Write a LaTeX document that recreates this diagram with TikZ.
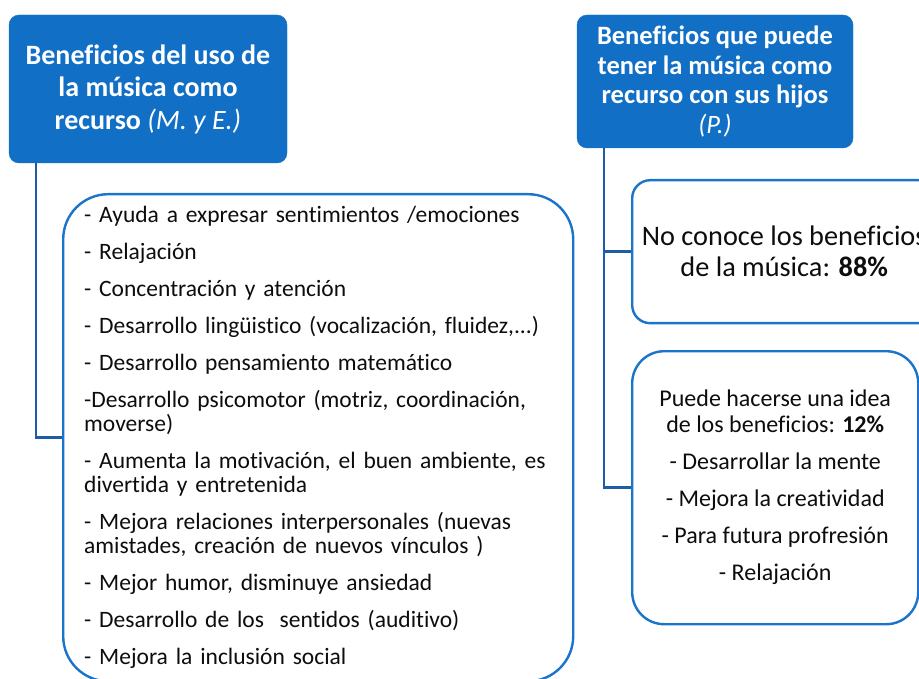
\documentclass[tikz,border=0pt]{standalone}
\usepackage{fontspec}
\setmainfont{Carlito}[Ligatures=CommonOff]
\usepackage{xcolor}
\definecolor{headblue}{RGB}{17,111,197}
\definecolor{lineblue}{RGB}{26,116,202}
\definecolor{linkblue}{RGB}{30,92,165}

\begin{document}
\begin{tikzpicture}[x=1pt, y=-1pt,
  head/.style={fill=headblue, draw=headblue, rounded corners=10pt, align=center, text=white, inner sep=0pt},
  card/.style={draw=lineblue, line width=2.4pt, fill=white, inner sep=0pt, text=black!95},
  link/.style={draw=linkblue, line width=2.6pt}]
\useasboundingbox (0,0) rectangle (919,679);
% headers
\node[head, minimum width=278pt, minimum height=148pt, font=\fontsize{28}{32.5}\selectfont\bfseries] (lhead) at (148,89)
  {Beneficios del uso de\\la música como\\recurso {\mdseries\itshape (M. y E.)}};
\node[head, minimum width=276pt, minimum height=133pt, font=\fontsize{26.5}{29.5}\selectfont\bfseries] (rhead) at (715,81.5)
  {Beneficios que puede\\tener la música como\\recurso con sus hijos\\{\mdseries\itshape (P.)}};
% left list
\node[card, rounded corners=45pt, anchor=north west, minimum height=487pt, text width=468pt, inner xsep=21pt, align=left,
  font=\fontsize{23.5}{24}\selectfont] (list) at (62,193)
  {- Ayuda a expresar sentimientos /emociones\\[13pt]
   - Relajación\\[13pt]
   - Concentración y atención\\[13pt]
   - Desarrollo lingüistico (vocalización, fluidez,...)\\[13pt]
   - Desarrollo pensamiento matemático\\[13pt]
   -Desarrollo psicomotor (motriz, coordinación,\\moverse)\\[13pt]
   - Aumenta la motivación, el buen ambiente, es\\divertida y entretenida\\[13pt]
   - Mejora relaciones interpersonales (nuevas\\amistades, creación de nuevos vínculos )\\[13pt]
   - Mejor humor, disminuye ansiedad\\[13pt]
   - Desarrollo de los\ \ sentidos (auditivo)\\[13pt]
   - Mejora la inclusión social};
% right cards
\node[card, rounded corners=18pt, anchor=north west, minimum width=304pt, minimum height=143pt, align=center,
  font=\fontsize{28.3}{31}\selectfont] (nc) at (631,179)
  {No conoce los beneficios\\de la música: \textbf{88\%}};
\node[card, rounded corners=32pt, anchor=north west, minimum width=286pt, minimum height=273pt, align=center,
  font=\fontsize{24}{26}\selectfont] (idea) at (631,350)
  {Puede hacerse una idea\\de los beneficios: \textbf{12\%}\\[11pt]
   - Desarrollar la mente\\[11pt]
   - Mejora la creatividad\\[11pt]
   - Para futura profresión\\[11pt]
   - Relajación};
% connectors
\draw[link] ([xshift=27pt]lhead.south west) |- (list.west);
\draw[link] ([xshift=27pt]rhead.south west) |- (nc.west);
\draw[link] ([xshift=27pt]rhead.south west) |- (idea.west);
\end{tikzpicture}
\end{document}
